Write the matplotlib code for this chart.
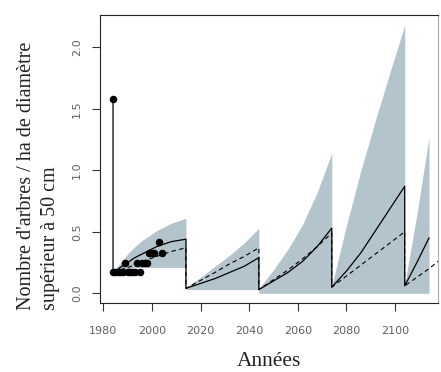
import matplotlib
matplotlib.use('Agg')
import matplotlib.pyplot as plt

# ---------------- data ----------------
obs_years = [1984, 1985, 1986, 1987, 1988, 1990, 1991, 1992, 1993, 1995,
             1989, 1994, 1996, 1997, 1998,
             1999, 2000, 2001, 2004,
             2003]
obs_values = [0.17, 0.17, 0.17, 0.17, 0.17, 0.17, 0.17, 0.17, 0.17, 0.17,
              0.25, 0.25, 0.25, 0.25, 0.25,
              0.33, 0.33, 0.33, 0.33,
              0.42]
first_obs_year = 1984
first_obs_value = 1.58

band_years = [1984, 1987, 1990, 1993, 1996, 1999, 2002, 2005, 2008, 2011, 2014,
              2014, 2020, 2026, 2032, 2038, 2044,
              2044, 2050, 2056, 2062, 2068, 2074,
              2074, 2080, 2086, 2092, 2098, 2104,
              2104, 2109, 2114]
band_upper = [0.17, 0.25, 0.32, 0.38, 0.43, 0.47, 0.51, 0.54, 0.57, 0.59, 0.61,
              0.05, 0.13, 0.22, 0.31, 0.41, 0.53,
              0.04, 0.19, 0.36, 0.56, 0.82, 1.14,
              0.06, 0.55, 1.00, 1.41, 1.80, 2.18,
              0.07, 0.64, 1.27]
band_lower = [0.17, 0.19, 0.20, 0.21, 0.21, 0.21, 0.21, 0.21, 0.21, 0.21, 0.21,
              0.03, 0.03, 0.03, 0.03, 0.03, 0.03,
              0.0, 0.0, 0.0, 0.0, 0.0, 0.0,
              0.0, 0.0, 0.0, 0.0, 0.0, 0.0,
              0.0, 0.0, 0.0]

median_years = [1984] + band_years
median_values = [1.58,
                 0.17, 0.21, 0.25, 0.29, 0.32, 0.35, 0.38, 0.40, 0.42, 0.43, 0.44,
                 0.04, 0.08, 0.12, 0.17, 0.22, 0.29,
                 0.03, 0.10, 0.17, 0.26, 0.38, 0.53,
                 0.05, 0.18, 0.33, 0.51, 0.69, 0.87,
                 0.06, 0.25, 0.45]

mean_years = band_years + [2117.7]
mean_values = [0.17, 0.19, 0.21, 0.23, 0.26, 0.28, 0.30, 0.32, 0.34, 0.355, 0.37,
               0.04, 0.105, 0.17, 0.24, 0.30, 0.37,
               0.03, 0.11, 0.19, 0.28, 0.38, 0.49,
               0.05, 0.14, 0.23, 0.32, 0.41, 0.50,
               0.06, 0.13, 0.20, 0.26]

x_ticks = [1980, 2000, 2020, 2040, 2060, 2080, 2100]
y_ticks = [0.0, 0.5, 1.0, 1.5, 2.0]
y_tick_labels = ['0.0', '0.5', '1.0', '1.5', '2.0']
x_label = 'Années'
y_label_1 = "Nombre d'arbres / ha de diamètre"
y_label_2 = 'supérieur à 50 cm'

# ---------------- figure ----------------
W, H = 441, 372
fig = plt.figure(figsize=(W / 100, H / 100), dpi=100)
ax = fig.add_axes([100 / W, (H - 303.3) / H, 338 / W, 288.6 / H])

ax.fill_between(band_years, band_lower, band_upper, color='#b4c4cc',
                linewidth=0, zorder=1)
ax.plot(mean_years, mean_values, color='black', lw=0.8,
        linestyle=(0, (4, 3)), zorder=2)
ax.plot(median_years, median_values, color='black', lw=0.9, zorder=3)
ax.plot(obs_years, obs_values, 'o', color='black', markersize=4.4, zorder=4)
ax.plot([first_obs_year], [first_obs_value], 'o', color='black',
        markersize=4.4, zorder=4)

ax.set_xlim(1978.64, 2117.7)
ax.set_ylim(-0.0813, 2.265)
ax.set_xticks(x_ticks)
ax.set_xticklabels([str(v) for v in x_ticks])
ax.set_yticks(y_ticks)
ax.set_yticklabels(y_tick_labels)

for s in ['left', 'bottom', 'top']:
    ax.spines[s].set_linewidth(0.8)
    ax.spines[s].set_color('#222222')
ax.spines['right'].set_linewidth(0.8)
ax.spines['right'].set_color('#aaaaaa')

ax.tick_params(axis='both', direction='out', length=6, width=0.8,
               color='#333333', labelsize=8, labelcolor='#606060')
ax.tick_params(axis='x', pad=10.5)
ax.tick_params(axis='y', pad=7, labelrotation=90)
for lab in ax.get_yticklabels():
    lab.set_verticalalignment('center')

fig.text(268.5 / W, 6 / H, x_label, family='Liberation Serif', fontsize=15.5,
         ha='center', va='baseline', color='#222222')
fig.text(27 / W, (H - 310) / H, y_label_1, family='Liberation Serif',
         fontsize=14.5, rotation=90, ha='center', va='bottom', color='#222222')
fig.text(51 / W, (H - 310) / H, y_label_2, family='Liberation Serif',
         fontsize=14.5, rotation=90, ha='center', va='bottom', color='#222222')

fig.savefig('out.png', dpi=100)
